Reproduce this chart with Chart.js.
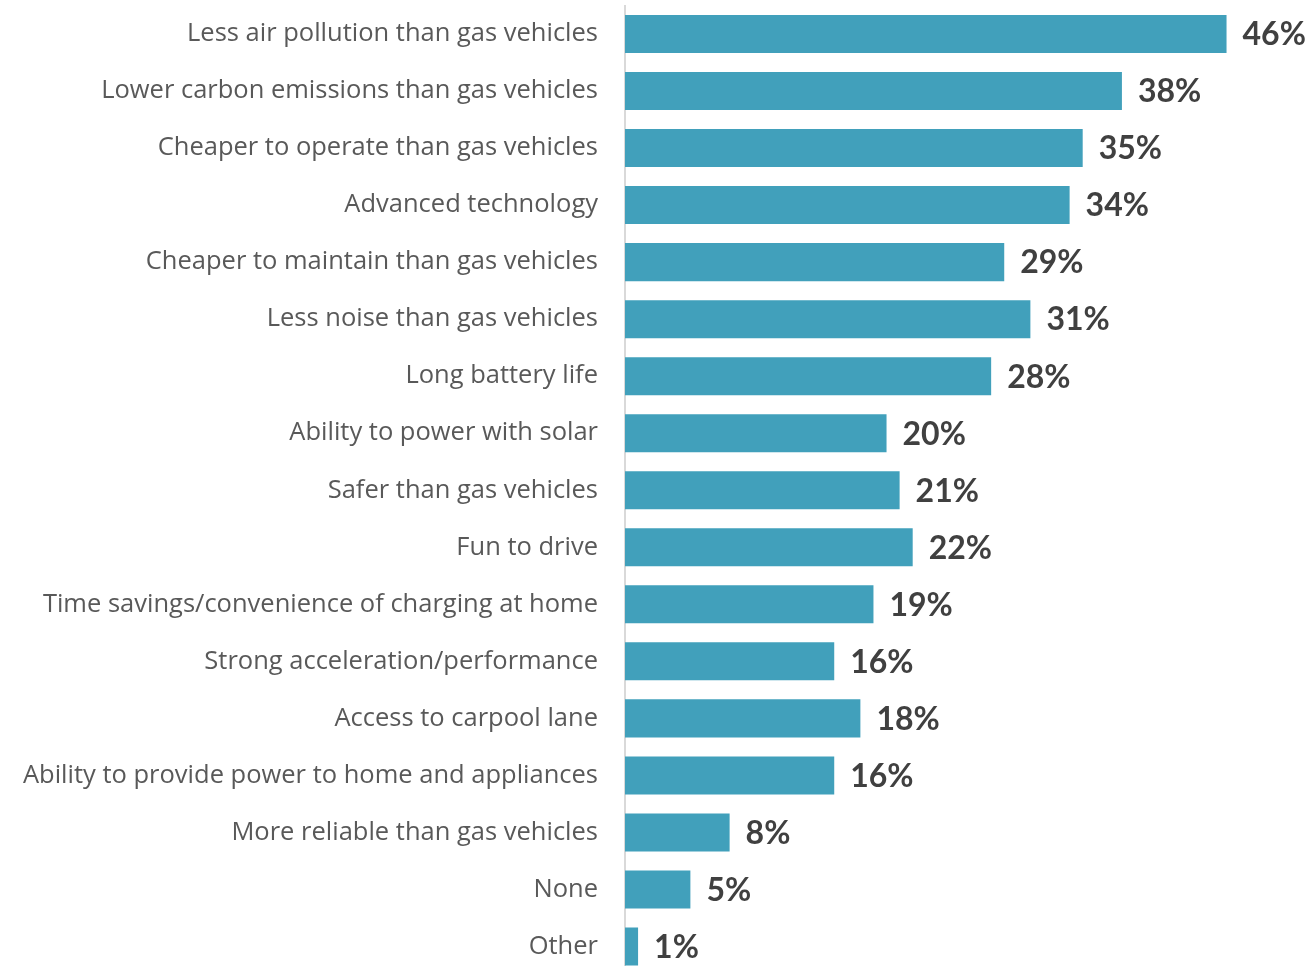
<!DOCTYPE html>
<html>
<head>
<meta charset="utf-8">
<script src="https://cdn.jsdelivr.net/npm/chart.js@4"></script>
<style>
  html, body { margin: 0; padding: 0; background: #fff; overflow: hidden; }
</style>
</head>
<body>
<canvas id="benefitsChart" width="1314" height="975"></canvas>
<script>
// Reasons for choosing an EV, share of respondents (%)
const categories = [
    'Less air pollution than gas vehicles',
    'Lower carbon emissions than gas vehicles',
    'Cheaper to operate than gas vehicles',
    'Advanced technology',
    'Cheaper to maintain than gas vehicles',
    'Less noise than gas vehicles',
    'Long battery life',
    'Ability to power with solar',
    'Safer than gas vehicles',
    'Fun to drive',
    'Time savings/convenience of charging at home',
    'Strong acceleration/performance',
    'Access to carpool lane',
    'Ability to provide power to home and appliances',
    'More reliable than gas vehicles',
    'None',
    'Other'
];
const shares = [46, 38, 35, 34, 29, 31, 28, 20, 21, 22, 19, 16, 18, 16, 8, 5, 1];
const axisMax = 52;

// Percentage text after the end of each bar
const valueLabels = {
    id: 'valueLabels',
    afterDatasetsDraw(chart) {
        const ctx = chart.ctx;
        const meta = chart.getDatasetMeta(0);
        ctx.save();
        ctx.font = "bold 32px Lato, 'Open Sans', sans-serif";
        ctx.fillStyle = '#404040';
        ctx.textAlign = 'left';
        ctx.textBaseline = 'middle';
        meta.data.forEach((bar, i) => {
            ctx.fillText(shares[i] + '%', bar.x + 16, bar.y + 1);
        });
        ctx.restore();
    }
};

new Chart(document.getElementById('benefitsChart'), {
    type: 'bar',
    data: {
        labels: categories,
        datasets: [{
            data: shares,
            backgroundColor: '#41A0BB',
            borderWidth: 0,
            categoryPercentage: 1,
            barPercentage: 0.667
        }]
    },
    plugins: [valueLabels],
    options: {
        indexAxis: 'y',
        responsive: false,
        animation: false,
        layout: { padding: { top: 5.5, right: 9, bottom: 0, left: 0 } },
        plugins: {
            legend: { display: false },
            tooltip: { enabled: false }
        },
        scales: {
            x: {
                display: false,
                min: 0,
                max: axisMax
            },
            y: {
                // fixed label column; no extra room above/below for the labels
                afterFit(scale) {
                    scale.width = 625;
                    scale.paddingTop = 0;
                    scale.paddingBottom = 0;
                },
                grid: { display: false, drawTicks: false },
                border: { display: true, color: '#d9d9d9', width: 2 },
                ticks: {
                    padding: 27,
                    color: '#595959',
                    font: { family: "'Open Sans', sans-serif", size: 25.5 }
                }
            }
        }
    }
});
</script>
</body>
</html>
